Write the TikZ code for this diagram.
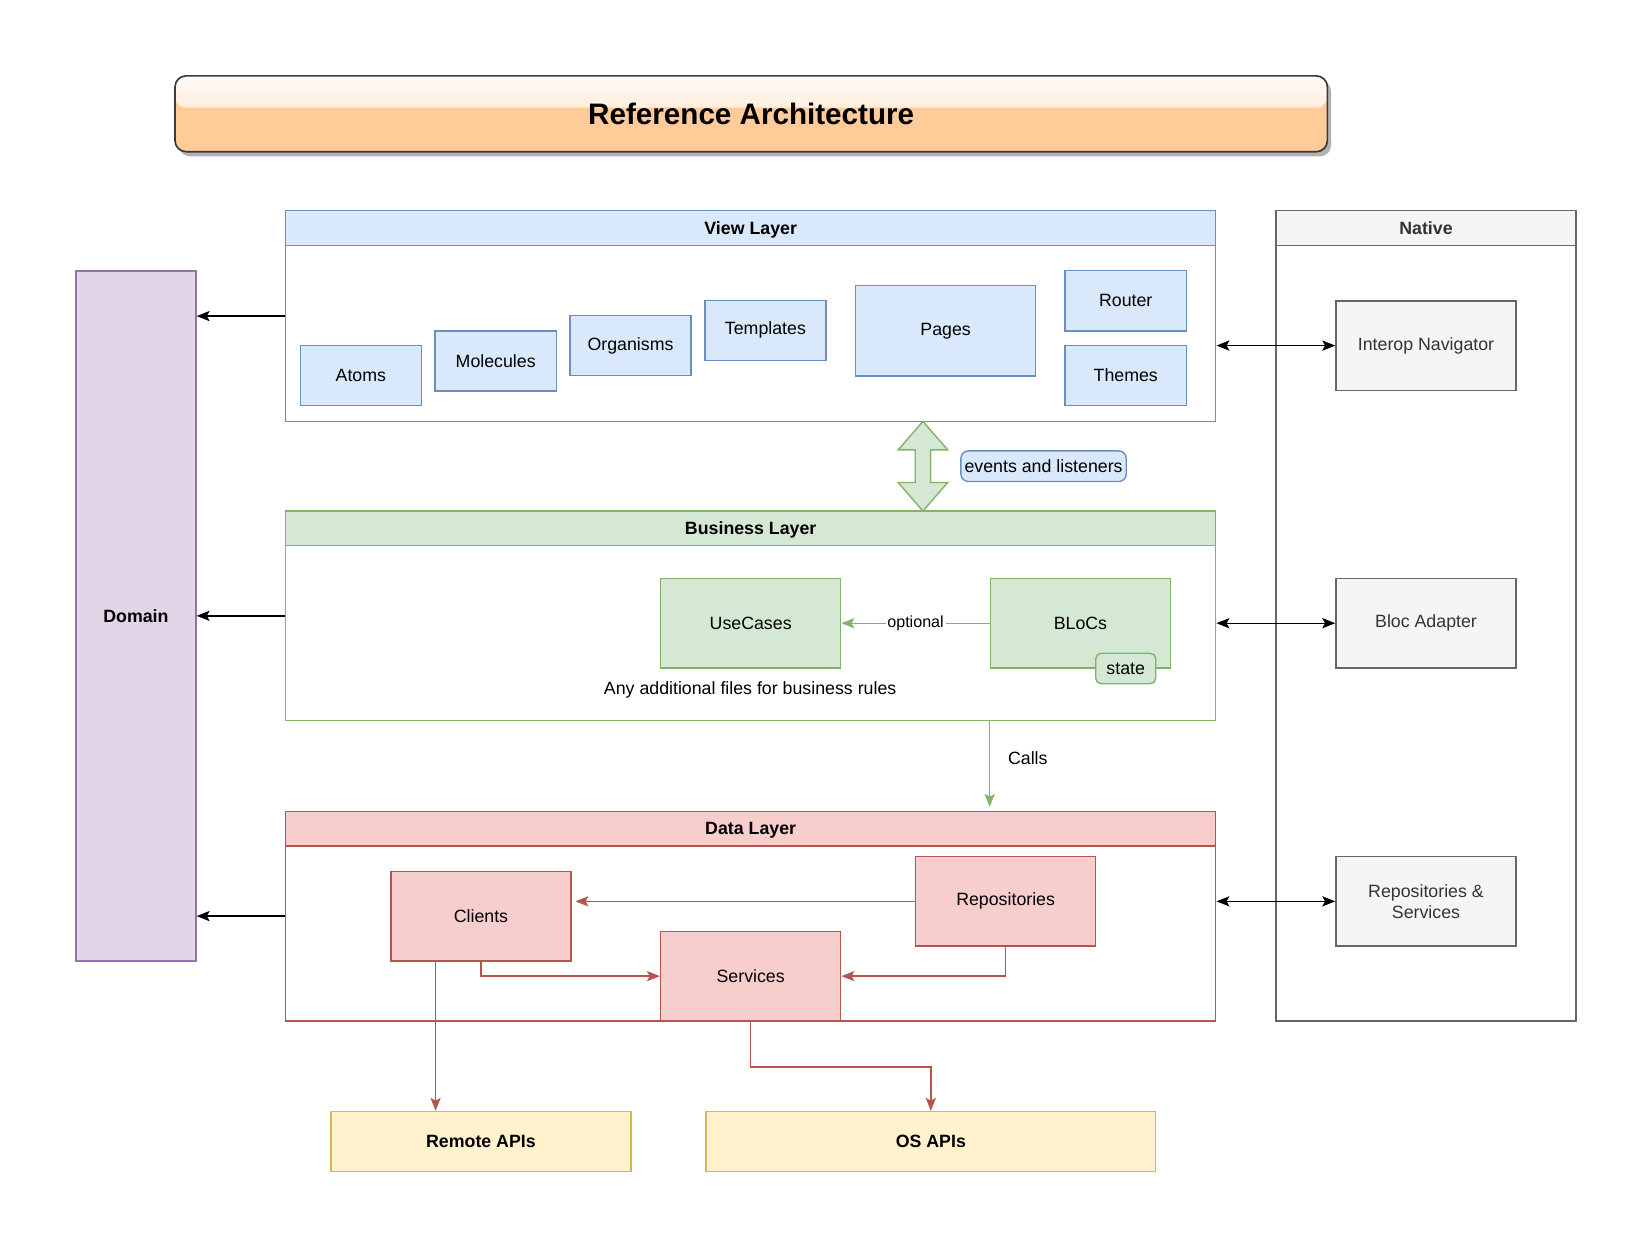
\documentclass[tikz,border=0pt]{standalone}
\usepackage{fontspec}
\setmainfont{Liberation Sans}
\usetikzlibrary{positioning,arrows.meta,calc,shadows}
\definecolor{ViewFill}{HTML}{DAE8FC}
\definecolor{ViewLine}{HTML}{6C8EBF}
\definecolor{BizFill}{HTML}{D5E8D4}
\definecolor{BizLine}{HTML}{82B366}
\definecolor{DataFill}{HTML}{F8CECC}
\definecolor{DataLine}{HTML}{B85450}
\definecolor{ApiFill}{HTML}{FFF2CC}
\definecolor{ApiLine}{HTML}{D6B656}
\definecolor{DomFill}{HTML}{E1D5E7}
\definecolor{DomLine}{HTML}{9673A6}
\definecolor{NatFill}{HTML}{F5F5F5}
\definecolor{NatLine}{HTML}{666666}
\definecolor{NatText}{HTML}{333333}
\definecolor{TitleFill}{HTML}{FFCC99}
\definecolor{TitleLine}{HTML}{36393D}
\tikzset{
  base/.style={font=\fontsize{9.6}{11.5}\selectfont,line width=0.75pt,
               inner sep=2pt,align=center},
  vbox/.style={base,draw=ViewLine,fill=ViewFill,
               minimum width=2.3cm,minimum height=1.14cm},
  gbox/.style={base,draw=BizLine,fill=BizFill,
               minimum width=3.42cm,minimum height=1.7cm},
  rbox/.style={base,draw=DataLine,fill=DataFill,
               minimum width=3.42cm,minimum height=1.7cm},
  ybox/.style={base,draw=ApiLine,fill=ApiFill,
               font=\fontsize{9.6}{11.5}\selectfont\bfseries,minimum height=1.14cm},
  nbox/.style={base,draw=NatLine,fill=NatFill,text=NatText,
               minimum width=3.42cm,minimum height=1.7cm},
  lane/.style={draw=#1,line width=0.75pt,minimum width=17.66cm,minimum height=3.98cm},
  lanehead/.style 2 args={base,font=\fontsize{9.6}{11.5}\selectfont\bfseries,
               draw=#1,fill=#2,minimum width=17.66cm,minimum height=0.66cm,anchor=north,
               text depth=0pt},
  titlebox/.style={draw=TitleLine,line width=0.9pt,fill=TitleFill,rounded corners=6pt,
               minimum width=21.88cm,minimum height=1.44cm,text depth=0pt,
               font=\fontsize{16}{19}\selectfont\bfseries,
               drop shadow={shadow xshift=2pt,shadow yshift=-2.5pt,fill=black!30,opacity=1},
               path picture={\shade[top color=white!92!TitleFill,bottom color=TitleFill!65!white]
                 (path picture bounding box.north west) rectangle
                 ($(path picture bounding box.north east)!0.42!(path picture bounding box.south east)$);}},
  lbl/.style={base,text=black,fill=white,inner sep=1pt},
  arr/.style={-{Stealth[length=7pt,width=5.5pt,inset=1.5pt]},line width=0.75pt},
  arrr/.style={arr,DataLine},
  arrg/.style={arr,BizLine},
  dblarr/.style={{Stealth[length=7pt,width=5.5pt,inset=1.5pt]}-{Stealth[length=7pt,width=5.5pt,inset=1.5pt]},
               line width=0.75pt},
}
\begin{document}
\begin{tikzpicture}[x=0.02cm,y=-0.02cm]
  \useasboundingbox (0,0) rectangle (1568,1184);

  % title
  \node[titlebox] (title) at (713,108) {Reference Architecture};

  % domain
  \node[base,draw=DomLine,fill=DomFill,font=\fontsize{9.6}{11.5}\selectfont\bfseries,
        minimum width=2.28cm,minimum height=13.1cm] (domain) at (129,584.5) {Domain};

  % view layer
  \node[lane=ViewLine,minimum height=4cm] (view) at (712.5,300) {};
  \node[lanehead={ViewLine}{ViewFill}] (viewhead) at (view.north) {View Layer};
  \node[vbox] (atoms) at (342.5,356.5) {Atoms};
  \node[vbox] (molecules) at (470.5,342.5) {Molecules};
  \node[vbox] (organisms) at (598.5,328) {Organisms};
  \node[vbox] (templates) at (726.5,313.5) {Templates};
  \node[vbox,minimum width=3.42cm,minimum height=1.72cm] (pages) at (897.5,314) {Pages};
  \node[vbox] (router) at (1068.5,285.5) {Router};
  \node[vbox] (themes) at (1068.5,356.5) {Themes};

  % business layer
  \node[lane=BizLine] (business) at (712.5,584.5) {};
  \node[lanehead={BizLine}{BizFill}] (bizhead) at (business.north) {Business Layer};
  \node[gbox] (usecases) at (712.5,591.5) {UseCases};
  \node[gbox] (blocs) at (1025.5,591.5) {BLoCs};
  \node[base,draw=BizLine,fill=BizFill,rounded corners=3pt,inner sep=1pt,
        minimum width=1.14cm,minimum height=0.58cm] (state) at (1068.5,634.5) {state};
  \node[base] (bizrules) at (712,655) {Any additional files for business rules};
  \draw[arrg] (blocs.west) -- node[lbl,font=\fontsize{8.7}{10}\selectfont] {optional} (usecases.east);

  % events between view and business
  \coordinate (evtop) at (876,400);
  \draw[BizLine,fill=BizFill,line width=0.75pt,line join=miter]
    (evtop) -- ++(23.5,27) -- ++(-16.2,0) -- ++(0,31) -- ++(16.2,0)
    -- (876,485) -- ++(-23.5,-27) -- ++(16.2,0) -- ++(0,-31) -- ++(-16.2,0) -- cycle;
  \node[base,draw=ViewLine,fill=ViewFill,rounded corners=4pt,inner sep=1pt,
        minimum width=3.14cm,minimum height=0.58cm] (events) at (990.5,442.5) {events and listeners};

  % data layer
  \node[lane=DataLine] (data) at (712.5,869.5) {};
  \node[lanehead={DataLine}{DataFill}] (datahead) at (data.north) {Data Layer};
  \node[rbox] (clients) at (456.5,869.5) {Clients};
  \node[rbox] (repos) at (954.5,855.5) {Repositories};
  \node[rbox] (services) at (712.5,926.5) {Services};

  \draw[arrg] (blocs.west |- business.south) -- node[lbl,right=0.3cm,pos=0.43] {Calls}
    ([yshift=2pt]blocs.west |- data.north);

  % outside apis
  \node[ybox,minimum width=5.7cm] (remote) at (456.5,1083.5) {Remote APIs};
  \node[ybox,minimum width=8.54cm] (osapi) at (883.5,1083.5) {OS APIs};

  \draw[arrr] (repos.west) -- ([xshift=2pt]repos.west -| clients.east);
  \draw[arrr] (clients.south) |- (services.west);
  \draw[arrr] (repos.south) |- (services.east);
  \coordinate (cltap) at ($(clients.south west)!.25!(clients.south east)$);
  \draw[arrr] (cltap) -- (cltap |- remote.north);
  \draw[arrr] (services.south) -- ++(0,43) -| (osapi.north);

  % native side
  \node[draw=NatLine,line width=0.75pt,minimum width=5.7cm,minimum height=15.38cm] (native) at (1353.5,584.5) {};
  \node[lanehead={NatLine}{NatFill},text=NatText,minimum width=5.7cm] (nathead) at (native.north) {Native};
  \node[nbox] (interop) at (1353.5,328) {Interop Navigator};
  \node[nbox] (blocad) at (1353.5,591.5) {Bloc Adapter};
  \node[nbox] (natrepo) at (1353.5,855.5) {Repositories \&\\Services};

  \draw[dblarr] (view.east |- interop.west) -- (interop.west);
  \draw[dblarr] (business.east |- blocad.west) -- (blocad.west);
  \draw[dblarr] (data.east |- natrepo.west) -- (natrepo.west);

  % layers to domain
  \draw[arr] (view.west) -- (view.west -| domain.east);
  \draw[arr] (business.west) -- (business.west -| domain.east);
  \draw[arr] (data.west) -- (data.west -| domain.east);
\end{tikzpicture}
\end{document}
